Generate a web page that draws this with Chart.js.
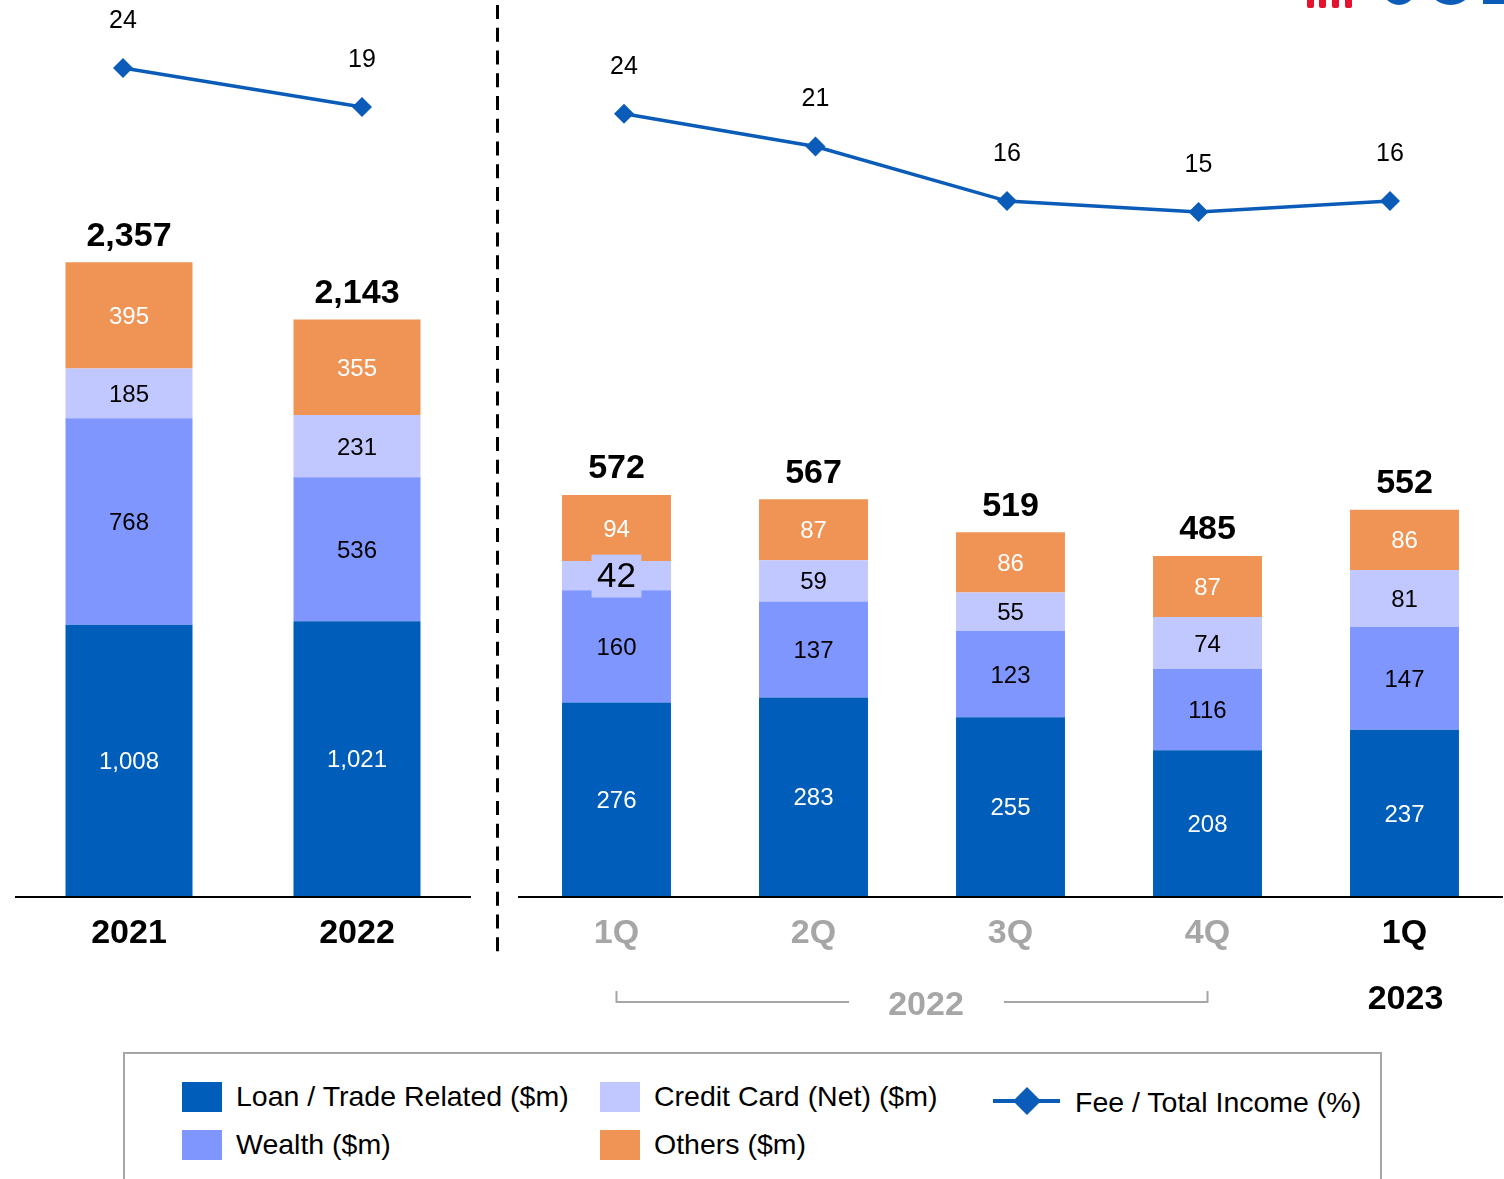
<!DOCTYPE html>
<html>
<head>
<meta charset="utf-8">
<title>Fee income</title>
<script src="https://cdn.jsdelivr.net/npm/chart.js@4.4.0/dist/chart.umd.min.js"></script>
<style>
  body { margin: 0; background: #fff; font-family: "Liberation Sans", Arial, sans-serif; }
  #wrap { position: relative; width: 1504px; height: 1179px; overflow: hidden; background: #fff; }
  #wrap canvas { position: absolute; top: 0; }
  #yearChart { left: 0; }
  #qtrChart { left: 500px; }
  .logo-red { position: absolute; top: 0; width: 7px; height: 8px; background: #e8112d; border-radius: 0 0 2px 2px; }
  .logo-ring { position: absolute; box-sizing: border-box; border: 6px solid #0b5cb8; border-radius: 50%; }
  .logo-bar { position: absolute; background: #0b5cb8; }
  #legend { position: absolute; left: 123px; top: 1052px; width: 1259px; height: 160px; box-sizing: border-box;
            border: 2px solid #a6a6a6; border-bottom: none; }
  .lg-item { position: absolute; font-size: 28.5px; color: #000; white-space: nowrap; line-height: 32px; }
  .lg-swatch { position: absolute; width: 40px; height: 30px; }
</style>
</head>
<body>
<div id="wrap">
  <canvas id="yearChart" width="500" height="960"></canvas>
  <canvas id="qtrChart" width="1004" height="1040"></canvas>

  <div class="logo-red" style="left:1307px"></div>
  <div class="logo-red" style="left:1319px"></div>
  <div class="logo-red" style="left:1332px"></div>
  <div class="logo-red" style="left:1345px"></div>
  <div class="logo-ring" style="left:1380px; top:-40px; width:38px; height:45px"></div>
  <div class="logo-ring" style="left:1427px; top:-40px; width:47px; height:45px"></div>
  <div class="logo-bar" style="left:1483px; top:0; width:21px; height:4px"></div>

  <div id="legend"></div>
</div>

<script>
// annual figures
const yearLabels = ['2021', '2022'];
const yearLoan = [1008, 1021];
const yearWealth = [768, 536];
const yearCard = [185, 231];
const yearOthers = [395, 355];
const yearTotals = [2357, 2143];
const yearFeeRatio = [24, 19];

// quarterly figures (1Q22 .. 1Q23)
const qtrLabels = ['1Q', '2Q', '3Q', '4Q', '1Q'];
const qtrLoan = [276, 283, 255, 208, 237];
const qtrWealth = [160, 137, 123, 116, 147];
const qtrCard = [42, 59, 55, 74, 81];
const qtrOthers = [94, 87, 86, 87, 86];
const qtrTotals = [572, 567, 519, 485, 552];
const qtrFeeRatio = [24, 21, 16, 15, 16];

const groupLabels = ['2022', '2023'];

const C_LOAN = '#005DBA';
const C_WEALTH = '#8096FF';
const C_CARD = '#C0C8FF';
const C_OTHERS = '#F09455';
const C_LINE = '#0A5CB8';
const FONT = '"Liberation Sans", Arial, sans-serif';

const fmt = v => v.toLocaleString('en-US');

// draws segment values, totals, line values, category labels and the baseline
const panelLabels = {
  id: 'panelLabels',
  afterDatasetsDraw(chart, args, opts) {
    const ctx = chart.ctx;
    const area = chart.chartArea;
    const xs = chart.scales.x;
    ctx.save();

    ctx.strokeStyle = '#000';
    ctx.lineWidth = 2;
    ctx.beginPath();
    ctx.moveTo(area.left, area.bottom + 1);
    ctx.lineTo(area.right, area.bottom + 1);
    ctx.stroke();

    ctx.textAlign = 'center';
    ctx.textBaseline = 'middle';

    let topMeta = null;
    chart.data.datasets.forEach((ds, i) => {
      const meta = chart.getDatasetMeta(i);
      if (ds.type === 'line') {
        ctx.font = '25px ' + FONT;
        ctx.fillStyle = '#000';
        meta.data.forEach((pt, j) => ctx.fillText(fmt(ds.data[j].y), pt.x, pt.y - 47));
        return;
      }
      topMeta = meta;
      meta.data.forEach((bar, j) => {
        const h = bar.base - bar.y;
        const cy = bar.y + h / 2;
        const text = fmt(ds.data[j]);
        if (h < 32) {
          // short segment: larger value on a tinted plate
          ctx.font = '35px ' + FONT;
          const w = ctx.measureText(text).width + 11;
          ctx.fillStyle = ds.backgroundColor;
          ctx.fillRect(bar.x - w / 2, cy - 21, w, 43);
          ctx.fillStyle = '#000';
        } else {
          ctx.font = '24px ' + FONT;
          ctx.fillStyle = ds.labelColor;
        }
        ctx.fillText(text, bar.x, cy + 2);
      });
    });

    ctx.font = 'bold 34px ' + FONT;
    ctx.fillStyle = '#000';
    topMeta.data.forEach((bar, j) => ctx.fillText(fmt(opts.totals[j]), bar.x, bar.y - 26));

    chart.data.labels.forEach((lab, j) => {
      ctx.fillStyle = opts.tickColors[j];
      ctx.fillText(lab, xs.getPixelForValue(j), area.bottom + 38);
    });

    if (opts.decorate) opts.decorate(chart, ctx);
    ctx.restore();
  }
};

function buildDatasets(loan, wealth, card, others, ratio) {
  return [
    { type: 'bar', label: 'Loan / Trade Related ($m)', data: loan, backgroundColor: C_LOAN, labelColor: '#fff', order: 1 },
    { type: 'bar', label: 'Wealth ($m)', data: wealth, backgroundColor: C_WEALTH, labelColor: '#000', order: 1 },
    { type: 'bar', label: 'Credit Card (Net) ($m)', data: card, backgroundColor: C_CARD, labelColor: '#000', order: 1 },
    { type: 'bar', label: 'Others ($m)', data: others, backgroundColor: C_OTHERS, labelColor: '#fff', order: 1 },
    {
      type: 'line', label: 'Fee / Total Income (%)',
      data: ratio.map((v, i) => ({ x: i, y: v })),
      xAxisID: 'x2', yAxisID: 'y1', order: 0,
      borderColor: C_LINE, borderWidth: 3.5, tension: 0,
      pointStyle: 'rectRot', pointRadius: 10, pointBackgroundColor: C_LINE, pointBorderWidth: 0
    }
  ];
}

function buildOptions(cfg) {
  return {
    responsive: false,
    animation: false,
    devicePixelRatio: 1,
    events: [],
    layout: { padding: cfg.padding, autoPadding: false },
    datasets: { bar: { categoryPercentage: 1, barPercentage: cfg.barPct, borderWidth: 0, grouped: false } },
    scales: {
      x: { stacked: true, offset: true, display: false },
      y: { stacked: true, display: false, min: 0, max: cfg.barMax },
      x2: { type: 'linear', offset: false, display: false, min: cfg.lineX[0], max: cfg.lineX[1] },
      y1: { display: false, min: cfg.lineY[0], max: cfg.lineY[1] }
    },
    plugins: {
      legend: { display: false },
      tooltip: { enabled: false },
      panelLabels: { totals: cfg.totals, tickColors: cfg.tickColors, decorate: cfg.decorate }
    }
  };
}

// annual panel, with the dashed divider on its right edge
new Chart(document.getElementById('yearChart'), {
  type: 'bar',
  data: { labels: yearLabels, datasets: buildDatasets(yearLoan, yearWealth, yearCard, yearOthers, yearFeeRatio) },
  options: buildOptions({
    padding: { left: 15, right: 29, top: 0, bottom: 64 },
    barPct: 0.557,
    barMax: 3331,
    lineX: [-0.452, 1.456],
    lineY: [-82.15, 32.72],
    totals: yearTotals,
    tickColors: ['#000', '#000'],
    decorate(chart, ctx) {
      ctx.strokeStyle = '#000';
      ctx.lineWidth = 3;
      ctx.setLineDash([14, 8.74]);
      ctx.beginPath();
      ctx.moveTo(497.5, 5);
      ctx.lineTo(497.5, 952);
      ctx.stroke();
      ctx.setLineDash([]);
    }
  }),
  plugins: [panelLabels]
});

// quarterly panel, with the year bracket under the axis
new Chart(document.getElementById('qtrChart'), {
  type: 'bar',
  data: { labels: qtrLabels, datasets: buildDatasets(qtrLoan, qtrWealth, qtrCard, qtrOthers, qtrFeeRatio) },
  options: buildOptions({
    padding: { left: 18, right: 1, top: 0, bottom: 144 },
    barPct: 0.553,
    barMax: 1278,
    lineX: [-0.5535, 4.59],
    lineY: [-47.7, 34.43],
    totals: qtrTotals,
    tickColors: ['#A6A6A6', '#A6A6A6', '#A6A6A6', '#A6A6A6', '#000'],
    decorate(chart, ctx) {
      const xs = chart.scales.x;
      const x0 = xs.getPixelForValue(0);
      const x3 = xs.getPixelForValue(3);
      const mid = (x0 + x3) / 2 + 14;
      ctx.strokeStyle = '#A6A6A6';
      ctx.lineWidth = 2;
      ctx.beginPath();
      ctx.moveTo(x0, 991);
      ctx.lineTo(x0, 1002);
      ctx.lineTo(mid - 77, 1002);
      ctx.moveTo(mid + 78, 1002);
      ctx.lineTo(x3, 1002);
      ctx.lineTo(x3, 991);
      ctx.stroke();
      ctx.font = 'bold 34px ' + FONT;
      ctx.fillStyle = '#A6A6A6';
      ctx.fillText(groupLabels[0], mid, 1006);
      ctx.fillStyle = '#000';
      ctx.fillText(groupLabels[1], xs.getPixelForValue(4) + 1, 1000);
    }
  }),
  plugins: [panelLabels]
});

// legend box
const legend = document.getElementById('legend');
const legendSlots = [
  { label: 'Loan / Trade Related ($m)', color: C_LOAN, x: 57, y: 28 },
  { label: 'Wealth ($m)', color: C_WEALTH, x: 57, y: 76 },
  { label: 'Credit Card (Net) ($m)', color: C_CARD, x: 475, y: 28 },
  { label: 'Others ($m)', color: C_OTHERS, x: 475, y: 76 }
];
legendSlots.forEach(s => {
  const sw = document.createElement('div');
  sw.className = 'lg-swatch';
  sw.style.cssText = `left:${s.x}px; top:${s.y}px; background:${s.color}`;
  legend.appendChild(sw);
  const t = document.createElement('div');
  t.className = 'lg-item';
  t.style.cssText = `left:${s.x + 54}px; top:${s.y - 2}px`;
  t.textContent = s.label;
  legend.appendChild(t);
});
const lineKey = document.createElement('canvas');
lineKey.width = 70; lineKey.height = 30;
lineKey.style.cssText = 'position:absolute; left:868px; top:32px';
const lk = lineKey.getContext('2d');
lk.fillStyle = C_LINE;
lk.fillRect(0, 13, 67, 4);
lk.beginPath();
lk.moveTo(34, 1); lk.lineTo(48, 15); lk.lineTo(34, 29); lk.lineTo(20, 15); lk.closePath();
lk.fill();
legend.appendChild(lineKey);
const lineText = document.createElement('div');
lineText.className = 'lg-item';
lineText.style.cssText = 'left:950px; top:32px';
lineText.textContent = 'Fee / Total Income (%)';
legend.appendChild(lineText);
</script>
</body>
</html>
